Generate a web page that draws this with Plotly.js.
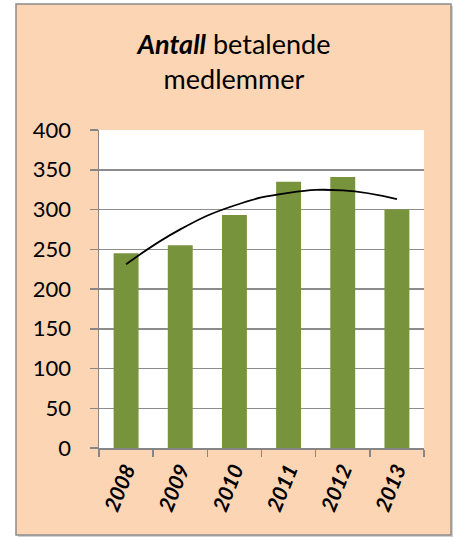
<!DOCTYPE html>
<html>
<head>
<meta charset="utf-8">
<script src="https://cdn.plot.ly/plotly-3.0.1.min.js"></script>
<style>html,body{margin:0;padding:0;background:#fff;}#chart{width:457px;height:537px;}</style>
</head>
<body>
<div id="chart"></div>
<script>
const years = ['2008', '2009', '2010', '2011', '2012', '2013'];
const members = [245, 255, 293, 335, 341, 300];
const trendValues = [231, 275, 305, 321, 324, 313];
const yTicks = [0, 50, 100, 150, 200, 250, 300, 350, 400];

const W = 457, H = 537;
const margin = {l: 99, r: 33, t: 130, b: 89};
const pw = W - margin.l - margin.r, ph = H - margin.t - margin.b;
function px2x(p) { return (p - margin.l) / pw; }
function py2y(p) { return (H - margin.b - p) / ph; }

const traces = [
  {
    type: 'bar', x: years, y: members,
    marker: {color: '#77933C'}, width: 0.46,
    hoverinfo: 'skip', showlegend: false
  },
  {
    type: 'scatter', mode: 'lines', x: years, y: trendValues,
    line: {color: '#000000', width: 1.8, shape: 'spline', smoothing: 1.3},
    hoverinfo: 'skip', showlegend: false
  }
];

const layout = {
  width: W, height: H,
  margin: margin,
  paper_bgcolor: '#ffffff',
  plot_bgcolor: 'rgba(0,0,0,0)',
  font: {family: 'Lato, "Noto Sans", sans-serif', color: '#000000'},
  showlegend: false,
  title: {
    text: '<b><i>Antall</i></b> betalende<br>medlemmer',
    font: {size: 27, family: 'Lato, "Noto Sans", sans-serif', color: '#000'},
    x: 0.512, xref: 'container', xanchor: 'center',
    y: 0.90, yref: 'container', yanchor: 'top'
  },
  xaxis: {
    type: 'category',
    tickangle: -68,
    tickfont: {size: 21, family: 'Lato, sans-serif', weight: 'bold', style: 'italic', color: '#000'},
    ticks: 'outside', ticklen: 7, tickcolor: '#868686', tickwidth: 1.5,
    tickson: 'boundaries',
    showline: true, linecolor: '#868686', linewidth: 1.5,
    showgrid: false, fixedrange: true
  },
  yaxis: {
    range: [0, 400],
    tickvals: yTicks,
    ticktext: yTicks.map(String),
    tickfont: {size: 22, family: 'Lato, sans-serif', color: '#000'},
    ticks: 'outside', ticklen: 8, tickcolor: '#868686', tickwidth: 1.5,
    ticklabelstandoff: 14,
    showline: true, linecolor: '#868686', linewidth: 1.5,
    showgrid: true, gridcolor: '#8c8c8c', gridwidth: 1.5,
    zeroline: false, fixedrange: true
  },
  shapes: [
    {type: 'rect', xref: 'paper', yref: 'paper', layer: 'below',
     x0: px2x(18), x1: px2x(453), y0: py2y(537), y1: py2y(6),
     fillcolor: '#d0d0d0', line: {width: 0}},
    {type: 'rect', xref: 'paper', yref: 'paper', layer: 'below',
     x0: px2x(16), x1: px2x(451), y0: py2y(535), y1: py2y(4),
     fillcolor: '#FCD5B5', line: {color: '#8c8c8c', width: 1.5}},
    {type: 'rect', xref: 'paper', yref: 'paper', layer: 'below',
     x0: 0, x1: 1, y0: 0, y1: 1,
     fillcolor: '#ffffff', line: {width: 0}}
  ]
};

Plotly.newPlot('chart', traces, layout, {displayModeBar: false, staticPlot: true});
</script>
</body>
</html>
